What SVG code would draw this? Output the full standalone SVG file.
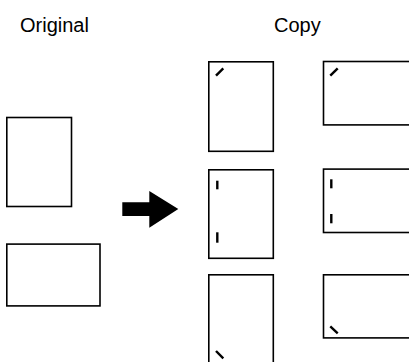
<svg xmlns="http://www.w3.org/2000/svg" width="409" height="362" viewBox="0 0 409 362">
<style>
.page{fill:#fff;stroke:#000;stroke-width:1.6}
.mark{stroke:#000;stroke-width:2.4;stroke-linecap:butt;fill:none}
.lbl{font-family:"Liberation Sans",Arial,sans-serif;font-size:20px;fill:#000}
</style>
<rect width="409" height="362" fill="#fff"/>
<text class="lbl" x="20" y="31.5">Original</text>
<text class="lbl" x="274" y="31.5">Copy</text>
<g id="orig-portrait"><rect class="page" x="6.8" y="117.5" width="64.7" height="89"/></g>
<g id="orig-landscape"><rect class="page" x="6.8" y="244.1" width="93.2" height="61.8"/></g>
<g id="connectors">
<polygon points="122.3,202.3 149.3,202.3 149.3,191 178.3,209 149.3,227.7 149.3,216 122.3,216" fill="#000"/>
</g>
<g id="copy-p1"><rect class="page" x="208.8" y="61.8" width="64.5" height="89.5"/><line class="mark" x1="216" y1="75.7" x2="223.3" y2="68.3"/></g>
<g id="copy-l1"><rect class="page" x="323.5" y="61.5" width="95" height="63.4"/><line class="mark" x1="330.3" y1="75.7" x2="337.7" y2="68.3"/></g>
<g id="copy-p2"><rect class="page" x="208.8" y="169.8" width="64.5" height="88.5"/><line class="mark" x1="217.3" y1="180.7" x2="217.3" y2="189.3"/><line class="mark" x1="217.3" y1="232.3" x2="217.3" y2="242.7"/></g>
<g id="copy-l2"><rect class="page" x="323.5" y="169.1" width="95" height="63.4"/><line class="mark" x1="331.3" y1="179.3" x2="331.3" y2="188.3"/><line class="mark" x1="331.3" y1="214" x2="331.3" y2="223.3"/></g>
<g id="copy-p3"><rect class="page" x="208.8" y="274.8" width="64.5" height="89.5"/><line class="mark" x1="216" y1="351" x2="223.3" y2="358.3"/></g>
<g id="copy-l3"><rect class="page" x="323.5" y="274.8" width="95" height="63.1"/><line class="mark" x1="330.3" y1="326.3" x2="337.7" y2="333.3"/></g>
</svg>
